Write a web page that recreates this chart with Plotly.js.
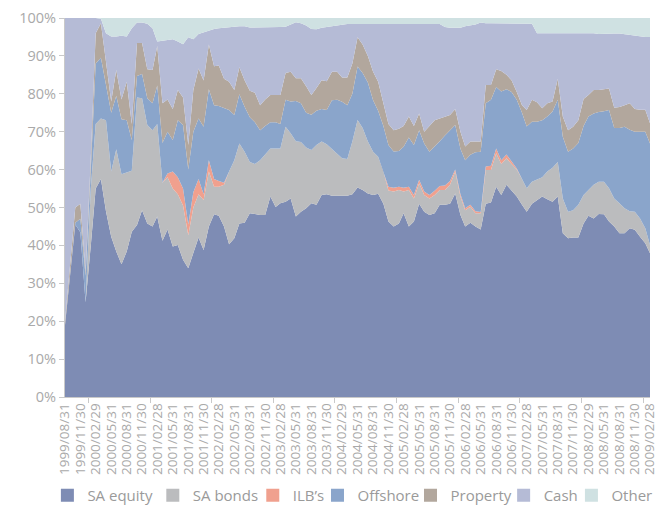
<!DOCTYPE html>
<html><head><meta charset="utf-8">
<script src="https://cdn.plot.ly/plotly-3.0.1.min.js"></script>
<style>html,body{margin:0;padding:0;background:#fff}#chart{width:665px;height:508px}</style>
</head><body><div id="chart"></div>
<script>
const months = [
 '1999-08-31','1999-09-30','1999-10-31','1999-11-30','1999-12-31',
 '2000-01-31','2000-02-29','2000-03-31','2000-04-30','2000-05-31','2000-06-30','2000-07-31','2000-08-31','2000-09-30','2000-10-31','2000-11-30','2000-12-31',
 '2001-01-31','2001-02-28','2001-03-31','2001-04-30','2001-05-31','2001-06-30','2001-07-31','2001-08-31','2001-09-30','2001-10-31','2001-11-30','2001-12-31',
 '2002-01-31','2002-02-28','2002-03-31','2002-04-30','2002-05-31','2002-06-30','2002-07-31','2002-08-31','2002-09-30','2002-10-31','2002-11-30','2002-12-31',
 '2003-01-31','2003-02-28','2003-03-31','2003-04-30','2003-05-31','2003-06-30','2003-07-31','2003-08-31','2003-09-30','2003-10-31','2003-11-30','2003-12-31',
 '2004-01-31','2004-02-29','2004-03-31','2004-04-30','2004-05-31','2004-06-30','2004-07-31','2004-08-31','2004-09-30','2004-10-31','2004-11-30','2004-12-31',
 '2005-01-31','2005-02-28','2005-03-31','2005-04-30','2005-05-31','2005-06-30','2005-07-31','2005-08-31','2005-09-30','2005-10-31','2005-11-30','2005-12-31',
 '2006-01-31','2006-02-28','2006-03-31','2006-04-30','2006-05-31','2006-06-30','2006-07-31','2006-08-31','2006-09-30','2006-10-31','2006-11-30','2006-12-31',
 '2007-01-31','2007-02-28','2007-03-31','2007-04-30','2007-05-31','2007-06-30','2007-07-31','2007-08-31','2007-09-30','2007-10-31','2007-11-30','2007-12-31',
 '2008-01-31','2008-02-29','2008-03-31','2008-04-30','2008-05-31','2008-06-30','2008-07-31','2008-08-31','2008-09-30','2008-10-31','2008-11-30','2008-12-31',
 '2009-01-31','2009-02-28'];

const tickLabels = ['1999/08/31','1999/11/30','2000/02/29','2000/05/31','2000/08/31','2000/11/30','2001/02/28','2001/05/31','2001/08/31','2001/11/30',
 '2002/02/28','2002/05/31','2002/08/31','2002/11/30','2003/02/28','2003/05/31','2003/08/31','2003/11/30','2004/02/29','2004/05/31','2004/08/31','2004/11/30',
 '2005/02/28','2005/05/31','2005/08/31','2005/11/30','2006/02/28','2006/05/31','2006/08/31','2006/11/30','2007/02/28','2007/05/31','2007/08/31','2007/11/30',
 '2008/02/29','2008/05/31','2008/08/31','2008/11/30','2009/02/28'];

const yearTicks = ['2000-01-18','2001-01-18','2002-01-18','2003-01-18','2004-01-18','2005-01-18','2006-01-18','2007-01-18','2008-01-18','2009-01-18'];

const seriesNames = ['SA equity','SA bonds','ILB\u2019s','Offshore','Property','Cash','Other'];
const seriesColors = ['#7e8cb4','#bbbcbe','#f0a08e','#8aa5cb','#b2a79d','#b5bbd6','#cfe1e2'];

const saEquity = [19,32,45.5,43.5,25,40,55,57.5,49,42.3,
 38.4,35,38.4,43.6,45.4,49.3,45.8,45,47.6,41.2,
 44.2,39.7,40.1,36.2,34,38,42.1,38.8,45,48.2,
 47.8,45,40.3,41.9,45.8,46,48.5,48.3,48,48,
 52.9,50.1,51.1,51.5,52.4,47.6,48.9,49.8,51.1,50.7,
 53.3,53.5,53.1,53.1,53.1,53.1,53.5,55.3,54.6,53.7,
 53.3,53.6,51,46.3,45,45.8,48.5,45,46.3,51,
 48.9,48,48.5,50.7,50.7,51,53.7,48,45,46,
 45,44.2,51,51.3,55.5,53.3,56,54.6,52.9,50.7,
 48.9,51,52,52.9,52.2,51.5,52.9,43.2,41.9,42.1,
 42.1,45.8,47.8,47.1,48.3,48.2,46.3,45,43.2,43.2,
 44.5,44.1,42.3,40.6,37.9];

const saBonds = [0,0,0,0,0,15,17,16,24,17.2,
 27,23.8,20.9,16.1,33.6,29.5,26,25.4,24.4,15.3,
 13.8,15.3,13.4,14.3,8.7,12,11.4,13.2,14.5,7.3,
 7.7,11,19.2,20.6,21.1,18.7,13.5,13.2,14.5,16,
 12.7,15.5,14.5,19.8,17.2,19.9,18.4,16,14.1,15.8,
 14.1,13.2,12.3,11.1,9.9,9.7,13.9,17.8,16.4,13.7,
 11.4,9.8,8.5,8.2,9.2,8.8,5.7,9.6,6.1,5.4,
 4.4,4.4,4.8,3.9,3.9,5,5.8,4.9,4.3,4.2,
 3.5,4.3,8.9,8.6,8.8,8.2,7,6.9,7.1,6.8,
 6.2,5.8,5.3,5.1,7.3,9,9.1,9.2,7,7.2,
 8.6,7.5,6.8,8.9,8.5,8.6,8.8,7.4,7.9,6.6,
 4.5,4.8,4.8,3.9,2.2];

const ilbs = [0,0,0,0,0,0,0,0,0,0,
 0,0,0,0,0,0,0,0,0,0,
 1,4.5,4.5,4.5,2.8,4,4,1.5,3,2,
 1.5,0.5,0,0,0,0,0,0,0,0,
 0,0,0,0,0,0,0,0,0,0,
 0,0,0,0,0,0,0,0,0,0,
 0,0,0,1,1,0.9,1,0.9,0.9,0.9,
 0.9,0.9,1.1,1.1,1.2,1,0.5,0.6,0.5,0.5,
 0.5,0.3,0.9,1.1,1.3,1,1,0.8,0.3,0,
 0,0,0,0,0,0,0,0,0,0,
 0,0,0,0,0,0,0,0,0,0,
 0,0,0,0,0];

const offshore = [0,0.5,0.5,3.5,7,5,16,16,9,15.5,
 14.1,14.5,13.7,8.1,5.7,6.4,7,7.1,10.2,10.5,
 11,8.3,15,16.8,14.5,16,16,17.8,18.7,19.5,
 19.8,19.7,16.2,11.9,13,11.9,11.8,11,7.9,7.5,
 6.9,6.9,6.4,7.1,8.4,10.6,10.2,9.2,9.3,9,
 8.6,9,12.9,14.2,14.9,14.2,12.6,14.1,14.5,15.6,
 13.6,12.1,12,11,9.6,9.4,10.8,13,13.2,13.1,
 12.7,11.4,11.6,11.8,13.2,13.4,11.8,12,12.7,13.2,
 15.6,15.9,16.7,17.4,16.2,18.1,17.2,18.2,18.1,17.5,
 16.3,15.8,15.3,15,14.5,14.8,16.4,16.3,15.8,16.3,
 16.3,18.2,19.4,18.8,18.4,18.6,20.6,18.6,19.9,21.5,
 21.5,21.1,22.9,25.5,26.8];

const property = [1,1.5,4,4,1,3,8,9.1,6,3,
 6.8,5.2,10.2,4.2,8.7,8.2,7.7,8.8,10.4,10.5,
 8.5,8.2,8,7.2,6.5,11,13.2,12.2,11.8,10.3,
 10.7,7.8,7.5,6.6,7.1,7,7,7.8,6.6,7,
 7.2,7.2,7.7,7.1,7.8,6,6.6,7,5.2,6,
 7.6,7.6,7.5,7.4,6.4,7.3,8,7.7,7.5,7,
 7.5,7.7,6,5.5,5.6,5.9,5.5,5.5,5,4.4,
 3.1,6.8,7,6,5,4,4.2,4.5,3.6,3.5,
 2.8,2.7,4.8,3.9,4.7,5.4,3.8,3.1,2.1,2,
 4.3,5.8,5.2,3.2,3.5,2.7,5.6,5.3,5.7,5.7,
 6,7.1,5.7,6.2,5.8,5.8,5.7,5.3,5.5,5.7,
 7,6,5.8,5.8,5.3];

const cash = [80,66,50,49,67,37,4,1.2,8,17.1,
 8.8,16.8,11.9,25.3,5.4,5.4,12,11,1.2,16.5,
 15.7,18.4,12.8,14.1,28.4,13.4,9.1,12.7,3.8,9.8,
 9.8,13.5,14.5,16.7,10.8,14.2,16.7,17.2,20.5,19,
 17.8,17.8,17.9,12.2,12.5,14.8,14.5,16,17.4,15.5,
 13.8,14.3,12,12.2,13.9,14.1,10.4,3.5,5.4,8.4,
 12.6,15.2,20.9,26.4,28,27.6,26.9,24.4,26.9,23.6,
 28.4,26.9,25.4,24.9,23.6,23,21.4,27.4,31.7,30.6,
 30.9,31.4,16.3,16.3,12.1,12.6,13.6,14.9,18,21.5,
 22.8,20.1,18.2,19.8,18.5,18,12,22,25.6,24.7,
 23,17.4,16.3,15,14.8,14.7,14.5,19.6,19.4,18.7,
 18,19.3,19.3,19.2,22.8];

const other = [0,0,0,0,0,0,0,0.2,4,4.9,
 4.9,4.7,4.9,2.7,1.2,1.2,1.5,2.7,6.2,6,
 5.8,5.6,6.2,6.9,5.1,5.6,4.2,3.8,3.2,2.9,
 2.7,2.5,2.3,2.3,2.2,2.2,2.5,2.5,2.5,2.5,
 2.5,2.5,2.4,2.3,1.7,1.1,1.4,2,2.9,3,
 2.6,2.4,2.2,2,1.8,1.6,1.6,1.6,1.6,1.6,
 1.6,1.6,1.6,1.6,1.6,1.6,1.6,1.6,1.6,1.6,
 1.6,1.6,1.6,1.6,2.4,2.6,2.6,2.6,2.2,2,
 1.7,1.2,1.4,1.4,1.4,1.4,1.4,1.5,1.5,1.5,
 1.5,1.5,4,4,4,4,4,4,4,4,
 4,4,4,4,4.2,4.1,4.1,4.1,4.1,4.3,
 4.5,4.7,4.9,5,5];

const seriesValues = [saEquity, saBonds, ilbs, offshore, property, cash, other];
const legendX = [-0.0301, 0.1501, 0.3210, 0.4316, 0.5906, 0.7498, 0.8657];
const FONT = '"Open Sans", Lato, sans-serif';
const GREY = '#a9a9a9';
const AXIS = '#c9c9c9';

const traces = [];
seriesValues.forEach((vals, k) => {
  traces.push({
    type: 'scatter', mode: 'lines', x: months, y: vals,
    stackgroup: 'one', name: seriesNames[k],
    line: {width: 0, color: seriesColors[k]},
    fillcolor: seriesColors[k], showlegend: false,
    hovertemplate: seriesNames[k] + ': %{y}%<extra></extra>'
  });
});
seriesValues.forEach((vals, k) => {
  traces.push({
    type: 'scatter', mode: 'markers', x: [null], y: [null],
    name: seriesNames[k], showlegend: true, hoverinfo: 'skip',
    legend: k === 0 ? 'legend' : 'legend' + (k + 1),
    marker: {symbol: 'square', size: 13, color: seriesColors[k]}
  });
});

const layout = {
  width: 665, height: 508,
  margin: {l: 65, r: 15, t: 18, b: 111, autoexpand: false},
  paper_bgcolor: '#fff', plot_bgcolor: '#fff',
  font: {family: FONT, color: GREY},
  showlegend: true,
  xaxis: {
    type: 'date', range: [months[0], months[months.length - 1]],
    tickmode: 'array', tickvals: tickLabels.map(s => s.replace(/\//g, '-')), ticktext: tickLabels,
    tickangle: -90, tickfont: {family: FONT, size: 13.5, color: GREY},
    ticks: '', showline: true, linecolor: AXIS, linewidth: 1,
    showgrid: false, zeroline: false,
    minor: {tickmode: 'array', tickvals: yearTicks, ticks: 'outside', ticklen: 5, tickcolor: AXIS, showgrid: false}
  },
  yaxis: {
    range: [0, 100], tickmode: 'linear', tick0: 0, dtick: 10, ticksuffix: '%',
    tickfont: {family: FONT, size: 14.5, color: GREY},
    ticks: 'outside', ticklen: 5, tickcolor: AXIS,
    showline: true, linecolor: AXIS, linewidth: 1,
    showgrid: false, zeroline: false, fixedrange: true
  }
};
legendX.forEach((lx, k) => {
  layout[k === 0 ? 'legend' : 'legend' + (k + 1)] = {
    orientation: 'h', x: lx, xanchor: 'left', y: -0.3034, yanchor: 'bottom',
    font: {family: FONT, size: 15, color: '#9a9a9a'}, itemwidth: 30,
    bgcolor: 'rgba(0,0,0,0)', borderwidth: 0
  };
});

Plotly.newPlot('chart', traces, layout, {displayModeBar: false, staticPlot: true});
</script>
</body></html>
